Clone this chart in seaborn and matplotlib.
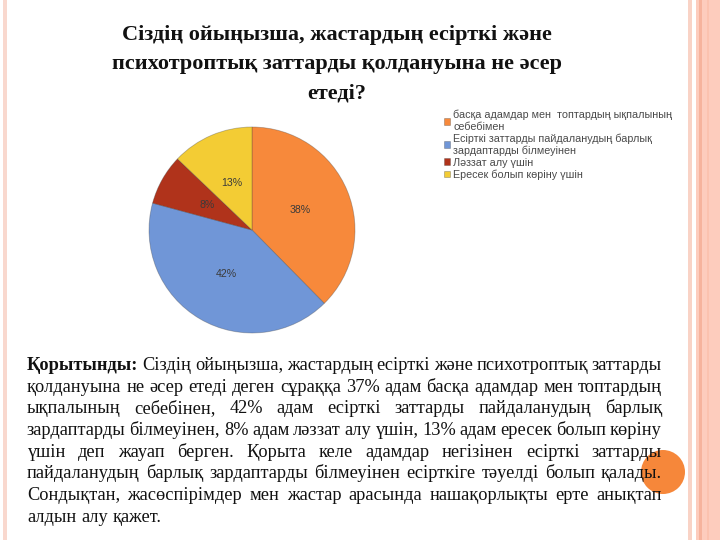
import matplotlib
matplotlib.use("Agg")
import matplotlib.pyplot as plt
import seaborn as sns
from matplotlib.patches import Rectangle, Ellipse

# ---------------- data ----------------
categories = [
    "басқа адамдар мен  топтардың ықпалының\nсебебімен",
    "Есірткі заттарды пайдаланудың барлық\nзардаптарды білмеуінен",
    "Ләззат алу үшін",
    "Ересек болып көріну үшін",
]
values = [38, 42, 8, 13]
pct_labels = ["38%", "42%", "8%", "13%"]
colors = ["#F7893B", "#7096D7", "#B0331B", "#F3CC34"]

title_lines = [
    "Сіздің ойыңызша, жастардың есірткі және",
    "психотроптық заттарды қолдануына не әсер",
    "етеді?",
]
para_head = "Қорытынды:"
para_lines = [
    "Сіздің ойыңызша, жастардың есірткі және психотроптық заттарды",
    "қолдануына не әсер етеді деген сұраққа 37% адам басқа адамдар мен топтардың",
    "ықпалының себебінен, 42% адам есірткі заттарды пайдаланудың барлық",
    "зардаптарды білмеуінен, 8% адам ләззат алу үшін, 13% адам ересек болып көріну",
    "үшін деп жауап берген. Қорыта келе адамдар негізінен есірткі заттарды",
    "пайдаланудың барлық зардаптарды білмеуінен есірткіге тәуелді болып қалады.",
    "Сондықтан, жасөспірімдер мен жастар арасында нашақорлықты ерте анықтап",
    "алдын алу қажет.",
]

# ---------------- style ----------------
sns.set_theme(style="white")
plt.rcParams["font.family"] = ["Liberation Sans", "DejaVu Sans"]
SERIF = ["Liberation Serif", "DejaVu Serif"]
SANS = ["Liberation Sans", "DejaVu Sans"]

W, H = 720, 540
fig = plt.figure(figsize=(7.2, 5.4), dpi=100)
fig.patch.set_facecolor("white")

def fx(px):
    return px / W

def fy(py):
    return 1 - py / H

# ---------------- slide decoration ----------------
fig.add_artist(Rectangle((fx(3), 0), fx(4), 1, transform=fig.transFigure,
                         facecolor="#F9D8CE", edgecolor="none", zorder=0))
fig.add_artist(Rectangle((fx(688), 0), fx(4), 1, transform=fig.transFigure,
                         facecolor="#F9D3C6", edgecolor="none", zorder=0))
fig.add_artist(Rectangle((fx(696), 0), fx(24), 1, transform=fig.transFigure,
                         facecolor="#FDCCBD", edgecolor="none", zorder=0))
fig.add_artist(Rectangle((fx(699), 0), fx(3), 1, transform=fig.transFigure,
                         facecolor="#F6B39D", edgecolor="none", zorder=0))
fig.add_artist(Rectangle((fx(707), 0), fx(1.5), 1, transform=fig.transFigure,
                         facecolor="#FBC2AF", edgecolor="none", zorder=0))
fig.add_artist(Ellipse((fx(663), fy(472)), fx(44), 44 / H, transform=fig.transFigure,
                       facecolor="#F6873A", edgecolor="none", zorder=0))

# ---------------- pie ----------------
cx, cy, r = 252, 230, 103
ax = fig.add_axes([fx(cx - r), fy(cy + r), 2 * r / W, 2 * r / H])
lab_iter = iter(pct_labels)
wedges, _, autotexts = ax.pie(
    values, colors=sns.color_palette(colors), startangle=90, counterclock=False,
    autopct=lambda p: next(lab_iter), pctdistance=0.5,
    wedgeprops=dict(edgecolor=(0.25, 0.25, 0.25, 0.35), linewidth=0.6),
    textprops=dict(fontsize=7.6, color="#3a3a3a", family=SANS),
)
ax.set_xlim(-1.0, 1.0)
ax.set_ylim(-1.0, 1.0)
ax.set_aspect("auto")
ax.axis("off")

leg = fig.legend(
    wedges, categories, loc="upper left",
    bbox_to_anchor=(fx(444), fy(110)), bbox_transform=fig.transFigure,
    frameon=False, fontsize=7.75, handlelength=0.6, handleheight=0.6,
    handletextpad=0.25, labelspacing=0.16, borderpad=0, borderaxespad=0,
)
for t in leg.get_texts():
    t.set_color("#4a4a4a")
    t.set_linespacing(1.17)

# ---------------- texts ----------------
fig.canvas.draw()
rend = fig.canvas.get_renderer()

def width(s, **kw):
    t = fig.text(0, 0, s, **kw)
    w = t.get_window_extent(rend).width
    t.remove()
    return w

# title, sized so its first line spans ~430 px
tkw = dict(family=SERIF, weight="bold", color="#111111")
tfs = 16 * 430 / width(title_lines[0], fontsize=16, **tkw)
for i, line in enumerate(title_lines):
    fig.text(fx(337), fy(40 + 29 * i), line, ha="center", va="baseline",
             fontsize=tfs, **tkw)

# paragraph, justified between x0 and x1
x0, x1 = 27, 662
pkw = dict(family=SERIF, color="#111111")
pfs = 13.0 * (x1 - x0) / width(para_lines[1], fontsize=13.0, **pkw) * 0.985
base0, step = 370, 21.7
for i, line in enumerate(para_lines):
    words = line.split()
    styles = [dict(pkw) for _ in words]
    if i == 0:
        words = [para_head] + words
        styles = [dict(pkw, weight="bold")] + styles
    ws = [width(w, fontsize=pfs, **s) for w, s in zip(words, styles)]
    y = fy(base0 + step * i)
    if i == len(para_lines) - 1:
        gap = width("a b", fontsize=pfs, **pkw) - width("ab", fontsize=pfs, **pkw)
    else:
        gap = ((x1 - x0) - sum(ws)) / (len(words) - 1)
    x = x0
    for w, s, wd in zip(words, styles, ws):
        fig.text(fx(x), y, w, ha="left", va="baseline", fontsize=pfs, zorder=3, **s)
        x += wd + gap

fig.savefig("out.png", dpi=100, facecolor="white")
